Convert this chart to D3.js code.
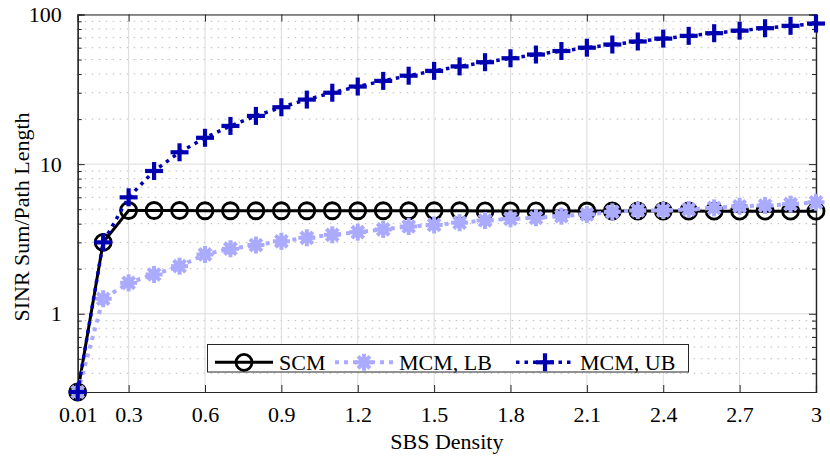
<!DOCTYPE html>
<html>
<head>
<meta charset="utf-8">
<script src="https://cdn.jsdelivr.net/npm/d3@7"></script>
<style>
  body { margin: 0; background: #fff; }
  text { font-family: "Liberation Serif", "Times New Roman", serif; fill: #000; }
</style>
</head>
<body>
<div id="chart"></div>
<script>
// SBS density values (first point sits at the "0.01" tick)
var density = [0.1, 0.2, 0.3, 0.4, 0.5, 0.6, 0.7, 0.8, 0.9, 1.0,
               1.1, 1.2, 1.3, 1.4, 1.5, 1.6, 1.7, 1.8, 1.9, 2.0,
               2.1, 2.2, 2.3, 2.4, 2.5, 2.6, 2.7, 2.8, 2.9, 3.0];

var scmValues = [0.3, 3.0, 4.9, 4.9, 4.9, 4.88, 4.88, 4.88, 4.88, 4.88,
                 4.88, 4.88, 4.88, 4.88, 4.88, 4.88, 4.87, 4.87, 4.87, 4.87,
                 4.86, 4.86, 4.86, 4.86, 4.86, 4.85, 4.85, 4.85, 4.85, 4.85];

var mcmLbValues = [0.3, 1.26, 1.61, 1.83, 2.08, 2.49, 2.72, 2.88, 3.05, 3.22,
                   3.37, 3.51, 3.66, 3.83, 3.92, 4.06, 4.2, 4.31, 4.38, 4.49,
                   4.61, 4.8, 4.9, 4.9, 4.98, 5.1, 5.23, 5.29, 5.4, 5.56];

var mcmUbValues = [0.3, 3, 6, 9, 12, 15, 18, 21, 24, 27,
                   30, 33, 36, 39, 42, 45, 48, 51, 54, 57,
                   60, 63, 66, 69, 72, 75, 78, 81, 84, 87];

var xTickValues = [0.1, 0.3, 0.6, 0.9, 1.2, 1.5, 1.8, 2.1, 2.4, 2.7, 3.0];
var xTickLabels = ["0.01", "0.3", "0.6", "0.9", "1.2", "1.5", "1.8", "2.1", "2.4", "2.7", "3"];
var yMajorTicks = [1, 10, 100];
var yTickLabels = ["1", "10", "100"];
var yMinorTicks = [0.4, 0.5, 0.6, 0.7, 0.8, 0.9, 2, 3, 4, 5, 6, 7, 8, 9,
                   20, 30, 40, 50, 60, 70, 80, 90];

var seriesNames = ["SCM", "MCM, LB", "MCM, UB"];

var width = 830, height = 458;
var margin = {top: 14.5, left: 77.7, right: 14, bottom: 66};
var plotW = width - margin.left - margin.right;
var plotH = height - margin.top - margin.bottom;
var fontSize = 22;

var svg = d3.select("#chart").append("svg")
    .attr("width", width)
    .attr("height", height);

var x = d3.scaleLinear().domain([0.1, 3.0]).range([0, plotW]);
var y = d3.scaleLog().domain([0.3, 100]).range([plotH, 0]);

var g = svg.append("g")
    .attr("transform", "translate(" + margin.left + "," + margin.top + ")");

// minor horizontal grid (dotted)
g.selectAll(".minor-grid")
    .data(yMinorTicks)
    .enter().append("line")
    .attr("x1", 0).attr("x2", plotW)
    .attr("y1", d => y(d)).attr("y2", d => y(d))
    .attr("stroke", "#bdbdbd")
    .attr("stroke-width", 1)
    .attr("stroke-dasharray", "1.5,5.5");

// major grid
g.selectAll(".xgrid")
    .data(xTickValues)
    .enter().append("line")
    .attr("x1", d => x(d)).attr("x2", d => x(d))
    .attr("y1", 0).attr("y2", plotH)
    .attr("stroke", "#dcdcdc")
    .attr("stroke-width", 1);

g.selectAll(".ygrid")
    .data(yMajorTicks)
    .enter().append("line")
    .attr("x1", 0).attr("x2", plotW)
    .attr("y1", d => y(d)).attr("y2", d => y(d))
    .attr("stroke", "#dcdcdc")
    .attr("stroke-width", 1);

// axes (ticks point inward, box on all sides)
var axisColor = "#262626";

var xAxisBottom = d3.axisBottom(x)
    .tickValues(xTickValues)
    .tickSize(-7)
    .tickPadding(14)
    .tickFormat((d, i) => xTickLabels[i]);

var xAxisTop = d3.axisTop(x)
    .tickValues(xTickValues)
    .tickSize(-7)
    .tickFormat("");

var yAxisLeft = d3.axisLeft(y)
    .tickValues(yMajorTicks)
    .tickSize(-7)
    .tickPadding(16)
    .tickFormat((d, i) => yTickLabels[i]);

var yAxisRight = d3.axisRight(y)
    .tickValues(yMajorTicks)
    .tickSize(-7)
    .tickFormat("");

var yMinorLeft = d3.axisLeft(y).tickValues(yMinorTicks).tickSize(-4).tickFormat("");
var yMinorRight = d3.axisRight(y).tickValues(yMinorTicks).tickSize(-4).tickFormat("");

function styleAxis(sel) {
    sel.selectAll("path").attr("stroke", axisColor).attr("stroke-width", 1.2).attr("fill", "none");
    sel.selectAll("line").attr("stroke", axisColor).attr("stroke-width", 1);
    sel.selectAll("text")
        .attr("font-family", "Liberation Serif, Times New Roman, serif")
        .attr("font-size", fontSize)
        .attr("fill", "#000");
}

g.append("g").attr("transform", "translate(0," + plotH + ")").call(xAxisBottom).call(styleAxis);
g.append("g").call(xAxisTop).call(styleAxis);
g.append("g").call(yAxisLeft).call(styleAxis);
g.append("g").attr("transform", "translate(" + plotW + ",0)").call(yAxisRight).call(styleAxis);
g.append("g").call(yMinorLeft).call(styleAxis);
g.append("g").attr("transform", "translate(" + plotW + ",0)").call(yMinorRight).call(styleAxis);

// axis labels
svg.append("text")
    .attr("x", margin.left + plotW / 2)
    .attr("y", 449)
    .attr("text-anchor", "middle")
    .attr("font-size", fontSize)
    .text("SBS Density");

svg.append("text")
    .attr("transform", "translate(29,217) rotate(-90)")
    .attr("text-anchor", "middle")
    .attr("font-size", fontSize)
    .text("SINR Sum/Path Length");

// series definitions
var series = [
    {name: seriesNames[0], values: scmValues, color: "#000000", width: 3, dash: null, marker: "circle"},
    {name: seriesNames[1], values: mcmLbValues, color: "#aaaaff", width: 4, dash: "4,5", marker: "asterisk"},
    {name: seriesNames[2], values: mcmUbValues, color: "#0000b0", width: 3.5, dash: "3.5,5", marker: "plus"}
];

var line = d3.line()
    .x(d => x(d.x))
    .y(d => y(d.y));

function drawMarker(sel, type, color) {
    if (type === "circle") {
        sel.append("circle")
            .attr("r", 8)
            .attr("fill", "none")
            .attr("stroke", color)
            .attr("stroke-width", 2.8);
    } else if (type === "asterisk") {
        var r = 8.5;
        var segs = [[-r, 0, r, 0], [0, -r, 0, r],
                    [-r * 0.7, -r * 0.7, r * 0.7, r * 0.7], [-r * 0.7, r * 0.7, r * 0.7, -r * 0.7]];
        segs.forEach(function(s) {
            sel.append("line")
                .attr("x1", s[0]).attr("y1", s[1]).attr("x2", s[2]).attr("y2", s[3])
                .attr("stroke", color)
                .attr("stroke-width", 4);
        });
        sel.append("circle").attr("r", 5.5).attr("fill", color);
    } else if (type === "plus") {
        var p = 9;
        sel.append("line").attr("x1", -p).attr("x2", p).attr("y1", 0).attr("y2", 0)
            .attr("stroke", color).attr("stroke-width", 4.2);
        sel.append("line").attr("x1", 0).attr("x2", 0).attr("y1", -p).attr("y2", p)
            .attr("stroke", color).attr("stroke-width", 4.2);
    }
}

series.forEach(function(s) {
    var pts = density.map((d, i) => ({x: d, y: s.values[i]}));
    var sg = g.append("g");

    sg.append("path")
        .datum(pts)
        .attr("d", line)
        .attr("fill", "none")
        .attr("stroke", s.color)
        .attr("stroke-width", s.width)
        .attr("stroke-dasharray", s.dash);

    sg.selectAll(".marker")
        .data(pts)
        .enter().append("g")
        .attr("transform", d => "translate(" + x(d.x) + "," + y(d.y) + ")")
        .each(function() { drawMarker(d3.select(this), s.marker, s.color); });
});

// legend
var legend = svg.append("g");
legend.append("rect")
    .attr("x", 207.5).attr("y", 344.5)
    .attr("width", 481).attr("height", 27.5)
    .attr("fill", "#fff")
    .attr("stroke", axisColor)
    .attr("stroke-width", 1);

var legendX = [215, 335, 516];
var legendY = 362.3;
series.forEach(function(s, i) {
    var lx = legendX[i];
    legend.append("line")
        .attr("x1", lx).attr("x2", lx + 58)
        .attr("y1", legendY).attr("y2", legendY)
        .attr("stroke", s.color)
        .attr("stroke-width", s.width)
        .attr("stroke-dasharray", s.dash);
    var m = legend.append("g").attr("transform", "translate(" + (lx + 29) + "," + legendY + ")");
    drawMarker(m, s.marker, s.color);
    legend.append("text")
        .attr("x", lx + 64)
        .attr("y", 369.5)
        .attr("font-size", fontSize)
        .text(s.name);
});
</script>
</body>
</html>
